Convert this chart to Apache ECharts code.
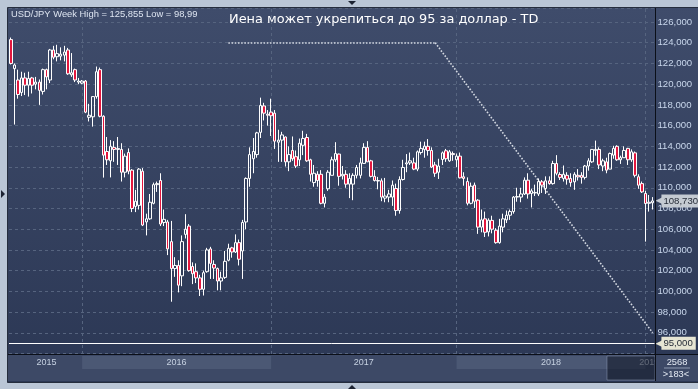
<!DOCTYPE html>
<html>
<head>
<meta charset="utf-8">
<script src="https://cdn.jsdelivr.net/npm/echarts@6/dist/echarts.min.js"></script>
<style>
html,body{margin:0;padding:0;background:#bac6d6;}
#c{width:698px;height:389px;}
</style>
</head>
<body>
<div id="c"></div>
<script>
// weekly bars (the platform splits the week at the turn of the year)
const categories = [
'2015-08-17','2015-08-24','2015-08-31','2015-09-07','2015-09-14','2015-09-21','2015-09-28','2015-10-05','2015-10-12','2015-10-19',
'2015-10-26','2015-11-02','2015-11-09','2015-11-16','2015-11-23','2015-11-30','2015-12-07','2015-12-14','2015-12-21','2015-12-28',
'2016-01-01','2016-01-04','2016-01-11','2016-01-18','2016-01-25','2016-02-01','2016-02-08','2016-02-15','2016-02-22','2016-02-29',
'2016-03-07','2016-03-14','2016-03-21','2016-03-28','2016-04-04','2016-04-11','2016-04-18','2016-04-25','2016-05-02','2016-05-09',
'2016-05-16','2016-05-23','2016-05-30','2016-06-06','2016-06-13','2016-06-20','2016-06-27','2016-07-04','2016-07-11','2016-07-18',
'2016-07-25','2016-08-01','2016-08-08','2016-08-15','2016-08-22','2016-08-29','2016-09-05','2016-09-12','2016-09-19','2016-09-26',
'2016-10-03','2016-10-10','2016-10-17','2016-10-24','2016-10-31','2016-11-07','2016-11-14','2016-11-21','2016-11-28','2016-12-05',
'2016-12-12','2016-12-19','2016-12-26',
'2017-01-02','2017-01-09','2017-01-16','2017-01-23','2017-01-30','2017-02-06','2017-02-13','2017-02-20','2017-02-27','2017-03-06',
'2017-03-13','2017-03-20','2017-03-27','2017-04-03','2017-04-10','2017-04-17','2017-04-24','2017-05-01','2017-05-08','2017-05-15',
'2017-05-22','2017-05-29','2017-06-05','2017-06-12','2017-06-19','2017-06-26','2017-07-03','2017-07-10','2017-07-17','2017-07-24',
'2017-07-31','2017-08-07','2017-08-14','2017-08-21','2017-08-28','2017-09-04','2017-09-11','2017-09-18','2017-09-25','2017-10-02',
'2017-10-09','2017-10-16','2017-10-23','2017-10-30','2017-11-06','2017-11-13','2017-11-20','2017-11-27','2017-12-04','2017-12-11',
'2017-12-18','2017-12-25',
'2018-01-01','2018-01-08','2018-01-15','2018-01-22','2018-01-29','2018-02-05','2018-02-12','2018-02-19','2018-02-26','2018-03-05',
'2018-03-12','2018-03-19','2018-03-26','2018-04-02','2018-04-09','2018-04-16','2018-04-23','2018-04-30','2018-05-07','2018-05-14',
'2018-05-21','2018-05-28','2018-06-04','2018-06-11','2018-06-18','2018-06-25','2018-07-02','2018-07-09','2018-07-16','2018-07-23',
'2018-07-30','2018-08-06','2018-08-13','2018-08-20','2018-08-27','2018-09-03','2018-09-10','2018-09-17','2018-09-24','2018-10-01',
'2018-10-08','2018-10-15','2018-10-22','2018-10-29','2018-11-05','2018-11-12','2018-11-19','2018-11-26','2018-12-03','2018-12-10',
'2018-12-17','2018-12-24','2018-12-31',
'2019-01-01','2019-01-07','2019-01-14'
];

// [open, close, low, high]
const ohlc = [
[124.3,122.0,121.9,124.5],[121.5,121.85,116.1,122.0],[120.4,119.0,118.6,121.4],[119.2,120.6,118.85,121.2],[120.6,119.9,118.95,121.1],
[119.9,120.55,118.8,121.2],[120.6,119.9,119.1,120.7],[120.0,120.2,119.5,120.7],[120.2,119.4,118.0,120.45],[119.3,121.4,119.0,121.5],
[121.4,120.7,119.5,121.5],[120.4,123.3,120.1,123.4],[123.3,122.6,122.4,123.7],[122.65,122.95,122.2,123.8],[122.7,122.9,122.3,123.55],
[122.8,123.1,122.2,123.7],[123.3,121.0,120.9,123.5],[120.9,121.1,120.7,123.0],[121.4,120.4,120.2,121.5],[120.2,120.3,120.0,120.6],
[120.1,120.3,120.0,120.4],[120.3,117.3,117.2,120.4],[116.8,117.0,116.4,118.1],[116.85,118.8,115.9,118.8],[118.8,121.2,118.6,121.7],
[121.4,116.9,116.8,121.6],[116.9,113.15,110.98,117.0],[113.5,112.7,112.2,114.9],[112.6,114.0,111.0,114.6],[113.9,113.7,112.5,114.5],
[113.7,113.8,112.2,114.9],[113.7,111.5,110.6,114.3],[111.5,113.05,111.0,113.3],[113.4,111.6,111.3,113.8],[111.7,108.0,107.65,111.8],
[108.2,108.7,107.65,109.8],[108.3,111.8,107.9,111.9],[111.6,106.4,106.3,111.9],[106.7,107.0,105.4,107.5],[107.0,108.6,106.9,109.4],
[108.5,110.3,108.4,110.5],[110.3,110.4,109.6,110.6],[110.7,106.5,106.3,111.4],[106.65,106.95,106.3,107.9],[106.7,104.1,103.5,106.9],
[104.8,102.2,99.0,106.8],[102.2,102.5,101.4,103.3],[102.5,100.6,99.9,103.0],[101.5,104.8,100.5,105.4],[105.5,106.0,105.1,107.45],
[106.3,102.0,101.9,106.5],[102.4,101.7,100.7,102.8],[101.9,101.3,100.8,102.7],[101.3,100.2,99.55,101.6],[100.2,101.8,99.6,102.0],
[101.9,104.0,101.8,104.2],[104.1,102.7,101.2,104.3],[102.6,102.25,101.2,103.0],[102.2,101.0,100.1,102.3],[101.0,101.3,100.1,101.9],
[101.35,102.9,101.2,103.9],[103.0,104.15,102.9,104.6],[104.2,103.8,103.25,104.3],[103.8,104.7,103.7,105.5],[104.7,103.1,102.5,105.0],
[103.9,106.65,101.2,106.9],[106.7,110.9,106.0,111.0],[110.9,113.2,110.1,113.9],[112.8,113.5,111.4,114.8],[113.2,115.3,112.9,115.4],
[115.35,117.95,114.8,118.7],[117.9,117.2,116.5,118.2],[117.1,117.0,116.0,117.5],
[117.3,116.95,115.0,118.6],[117.2,114.5,113.75,117.5],[114.4,114.6,112.5,115.6],[114.6,115.1,112.5,115.4],[114.9,112.5,112.05,114.95],
[112.5,113.2,111.6,114.0],[113.6,112.8,112.6,114.95],[113.0,112.1,111.9,113.6],[112.7,114.3,112.1,114.75],[114.1,114.76,113.15,115.5],
[114.85,112.6,112.5,115.2],[112.7,111.3,110.6,112.8],[110.5,111.4,110.1,112.2],[111.3,110.7,110.1,111.6],[111.3,108.5,108.4,111.7],
[108.5,109.1,108.1,109.4],[109.9,111.5,109.7,111.7],[111.2,112.7,111.2,113.0],[112.7,113.3,112.5,114.4],[113.25,111.1,110.2,113.3],
[111.15,111.3,110.8,112.1],[111.3,110.35,110.0,111.7],[110.35,110.9,109.0,111.4],[110.35,111.2,108.8,111.4],[111.2,111.96,110.9,112.2],
[111.2,112.4,110.9,112.9],[112.35,113.9,112.3,114.3],[113.9,112.5,112.5,114.5],[112.6,111.1,111.0,112.7],[111.1,110.7,110.6,111.7],
[110.7,110.65,109.85,111.05],[110.67,109.1,108.7,110.9],[109.0,109.2,108.6,110.95],[109.1,109.4,108.6,109.8],[109.1,110.25,108.25,110.7],
[109.93,107.8,107.3,110.4],[107.8,110.8,107.5,111.1],[110.8,111.96,110.7,112.7],[112.3,112.4,111.5,113.25],[112.4,112.6,112.2,113.4],
[112.4,111.8,111.7,112.9],[111.8,113.47,111.6,113.6],[113.4,113.8,113.2,114.45],[113.7,114.02,112.9,114.45],[114.0,113.6,113.1,114.7],
[113.6,112.0,111.9,113.9],[112.2,111.4,111.05,112.5],[111.5,112.1,110.85,112.8],[112.73,113.37,112.2,113.5],[113.57,112.8,112.5,113.75],
[112.6,113.47,112.5,113.65],[113.3,113.2,112.6,113.5],
[112.7,113.05,112.0,113.3],[113.05,110.96,110.9,113.4],[111.06,110.9,110.2,111.5],[110.6,108.5,108.3,111.0],[108.5,110.15,108.4,110.5],
[110.25,108.7,108.05,110.5],[108.8,106.2,105.55,108.9],[106.2,106.9,105.7,107.9],[107.0,105.7,105.25,107.7],[105.74,106.87,105.3,107.05],
[106.85,106.0,105.6,107.3],[105.9,104.7,104.6,106.1],[104.7,106.3,104.6,107.0],[106.2,107.0,105.7,107.5],[106.9,107.35,106.6,107.8],
[107.35,107.7,106.9,107.9],[107.7,109.1,107.5,109.2],[109.1,109.15,108.65,110.0],[109.1,109.4,108.6,110.0],[109.4,110.73,109.3,111.0],
[110.73,109.4,108.95,111.4],[109.45,109.7,108.1,109.9],[109.5,109.55,109.2,110.3],[109.4,110.6,109.2,110.9],[110.57,110.25,109.5,110.75],
[109.93,110.67,109.4,111.1],[110.67,110.4,110.3,111.1],[110.4,112.34,110.3,112.6],[112.34,111.4,111.2,113.15],[111.28,111.0,110.75,111.5],
[110.9,111.3,110.6,112.15],[111.2,110.83,110.3,111.5],[110.9,110.5,110.1,111.4],[110.57,111.3,109.8,111.5],[111.2,111.05,110.7,111.8],
[111.2,111.0,110.4,111.5],[111.0,112.1,110.8,112.2],[112.1,112.6,111.65,112.85],[112.5,113.7,112.4,113.7],[113.6,113.7,113.1,114.55],
[113.7,112.2,111.8,113.9],[112.1,112.6,111.6,112.8],[112.5,111.7,111.4,112.9],[111.8,113.3,111.8,113.4],[113.15,113.8,112.8,114.05],
[114.0,112.7,112.6,114.1],[112.7,112.9,112.3,113.1],[112.9,113.6,112.9,114.0],[113.8,112.7,112.2,113.85],[112.7,113.47,112.5,113.7],
[113.37,111.2,111.0,113.5],[111.06,110.25,109.9,111.3],[110.4,109.6,109.5,110.6],
[109.45,108.48,104.8,109.7],[108.5,108.6,107.7,109.3],[108.55,108.73,107.9,109.1]
];

const yearStarts = ['2016-01-01','2017-01-02','2018-01-01','2019-01-01'];
const yearLabels = ['2015','2016','2017','2018','2019'];
const trendLine = [['2016-10-10',124],['2017-11-20',124],['2019-01-14',96]];
const targetLevel = 95;
const lastPrice = 108.73;
const headerText = 'USD/JPY Week High = 125,855 Low = 98,99';
const titleText = 'Иена может укрепиться до 95 за доллар - TD';
const barCount = '2568';
const visibleCount = '>183<';

const fmt = v => v.toFixed(3).replace('.', ',');
const LF = 'Liberation Sans, Arial, sans-serif';

const bounds = [categories[0]].concat(yearStarts, [categories[categories.length - 1]]);
const bandData = yearLabels.map((y, i) => [
  { name: y, xAxis: bounds[i],
    itemStyle: { color: i % 2 === 1 ? '#4b5874' : 'rgba(0,0,0,0)' } },
  { xAxis: bounds[i + 1] }
]);

const tagLabel = (value, bg) => ({
  show: true, position: 'end', distance: 1,
  formatter: '{a|◀}{b|' + fmt(value) + '}',
  rich: {
    a: { color: bg, fontSize: 9, fontFamily: 'DejaVu Sans, sans-serif', padding: [0, -1, 0, 0] },
    b: { backgroundColor: bg, color: '#262c38', padding: [2, 3, 1, 2], fontSize: 9.6, fontFamily: LF }
  }
});

const dotted = { color: '#d4d9e2', type: [1.6, 1.6], width: 1.6 };
const markLines = [];
yearStarts.forEach(d => markLines.push({ xAxis: d, lineStyle: { color: '#56647f', type: [3, 3], width: 1 } }));
markLines.push([{ coord: trendLine[0], lineStyle: dotted }, { coord: trendLine[1], lineStyle: dotted }]);
markLines.push([{ coord: trendLine[1], lineStyle: dotted }, { coord: trendLine[2], lineStyle: dotted }]);
markLines.push({ yAxis: targetLevel, lineStyle: { color: '#ffffff', type: 'solid', width: 1 },
  label: tagLabel(targetLevel, '#e6e5d3') });
markLines.push({ yAxis: lastPrice, lineStyle: { color: 'rgba(0,0,0,0)', width: 0 },
  label: tagLabel(lastPrice, '#c4cad2') });

const chart = echarts.init(document.getElementById('c'), null, { renderer: 'canvas' });
chart.setOption({
  animation: false,
  backgroundColor: '#bac6d6',
  title: [
    { text: titleText, left: 229, top: 13, padding: 0,
      textStyle: { color: '#ffffff', fontSize: 12.9, fontWeight: 'normal', fontFamily: 'DejaVu Sans, sans-serif' } },
    { text: headerText, left: 11, top: 10, padding: 0,
      textStyle: { color: '#dde4f0', fontSize: 9.4, fontWeight: 'normal', fontFamily: LF } }
  ],
  graphic: [
    { type: 'rect', z: -20, shape: { x: 7.5, y: 7.5, width: 691, height: 375 },
      style: { fill: new echarts.graphic.LinearGradient(0, 0, 0, 1, [
        { offset: 0, color: '#3f4c6b' }, { offset: 1, color: '#2b3754' }]), stroke: '#252d3d', lineWidth: 1 } },
    { type: 'rect', z: -19, shape: { x: 8, y: 354, width: 690, height: 27 }, style: { fill: '#3d4966' } },
    { type: 'rect', z: 10, shape: { x: 607, y: 356, width: 48, height: 24 },
      style: { fill: 'rgba(14,20,34,0.55)', stroke: 'rgba(150,165,190,0.45)', lineWidth: 1 } },
    { type: 'rect', z: 20, shape: { x: 655.5, y: 354.5, width: 42.5, height: 26.5 }, style: { fill: '#3d4966' } },
    { type: 'line', z: 21, shape: { x1: 8, y1: 354.5, x2: 698, y2: 354.5 }, style: { stroke: '#0b0f18', lineWidth: 1 } },
    { type: 'line', z: 21, shape: { x1: 655.5, y1: 8, x2: 655.5, y2: 381 }, style: { stroke: '#0b0f18', lineWidth: 1 } },
    { type: 'line', z: 21, shape: { x1: 664, y1: 368, x2: 690, y2: 368 }, style: { stroke: '#8e9ab0', lineWidth: 1 } },
    { type: 'text', z: 22, style: { text: barCount, x: 677, y: 362, align: 'center', verticalAlign: 'middle',
      fill: '#e4eaf3', font: '9.3px ' + LF } },
    { type: 'text', z: 22, style: { text: visibleCount, x: 676, y: 374.5, align: 'center', verticalAlign: 'middle',
      fill: '#e4eaf3', font: '9.3px ' + LF } },
    { type: 'polygon', z: 22, shape: { points: [[348, 1], [356, 1], [352, 5]] }, style: { fill: '#1c2332' } },
    { type: 'polygon', z: 22, shape: { points: [[1, 190], [1, 198], [5, 194]] }, style: { fill: '#1c2332' } },
    { type: 'polygon', z: 22, shape: { points: [[348, 389], [356, 389], [352, 385]] }, style: { fill: '#1c2332' } }
  ],
  grid: [
    { left: 9, top: 8, width: 645.5, height: 346 },
    { left: 9, top: 356, width: 645.5, height: 13 }
  ],
  xAxis: [
    { type: 'category', gridIndex: 0, data: categories, boundaryGap: true,
      axisLine: { show: false }, axisTick: { show: false }, axisLabel: { show: false }, splitLine: { show: false } },
    { type: 'category', gridIndex: 1, data: categories, boundaryGap: true, show: false }
  ],
  yAxis: [
    { type: 'value', gridIndex: 0, position: 'right', min: 93.954, max: 127.351,
      splitNumber: 16, minInterval: 2, maxInterval: 2, scale: true,
      axisLine: { show: false }, axisTick: { show: false },
      axisLabel: { margin: 3, color: '#c9d7ec', fontSize: 9.6, fontFamily: LF,
        formatter: v => (v < 95.5 || v > 126.5) ? '' : fmt(v) },
      splitLine: { show: true, lineStyle: { color: '#56647f', type: [3, 3], width: 1 } } },
    { type: 'value', gridIndex: 1, min: 0, max: 1, show: false }
  ],
  series: [
    { type: 'candlestick', xAxisIndex: 0, yAxisIndex: 0, data: ohlc, barWidth: 3, silent: true, z: 3,
      itemStyle: { color: 'rgba(0,0,0,0)', color0: '#e3173e', borderColor: '#ffffff', borderColor0: '#ffffff', borderWidth: 1 },
      emphasis: { disabled: true },
      markLine: { silent: true, z: 1, symbol: ['none', 'none'], animation: false, label: { show: false }, data: markLines } },
    { type: 'line', xAxisIndex: 1, yAxisIndex: 1, data: [], silent: true,
      markArea: { silent: true, animation: false,
        label: { show: true, position: 'inside', fontSize: 9, fontFamily: LF, color: '#c6d1e1' },
        data: bandData } }
  ]
});
</script>
</body>
</html>
